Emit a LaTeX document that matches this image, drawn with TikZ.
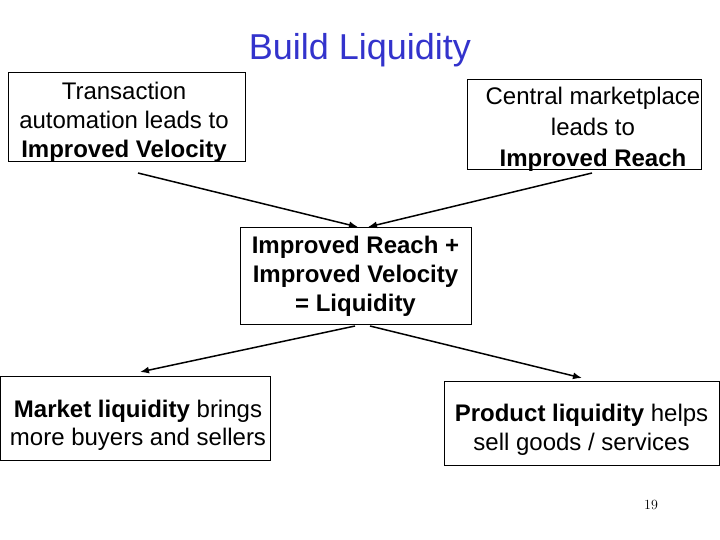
\documentclass[tikz,border=0pt]{standalone}
\usepackage{fontspec}
\setmainfont{Liberation Sans}
\usetikzlibrary{arrows.meta}
\begin{document}
\begin{tikzpicture}[x=1pt,y=-1pt,
  box/.style={draw,line width=1pt,inner sep=0pt},
  txt/.style={font=\fontsize{24}{29}\selectfont,align=center},
  arr/.style={-{Latex[length=9pt,width=7pt]},line width=1.5pt}]
\useasboundingbox (0,0) rectangle (720,540);
\definecolor{tblue}{RGB}{51,51,204}
\node[font=\fontsize{36}{40}\selectfont,text=tblue] (title) at (360,50) {Build Liquidity};
\node[box,minimum width=237pt,minimum height=89pt] (b1) at (126.5,117.5) {};
\node[txt] (t1) at (124,122) {Transaction\\automation leads to\\\textbf{Improved Velocity}};
\node[box,minimum width=234pt,minimum height=90pt] (b2) at (584,125) {};
\node[txt,font=\fontsize{24}{31}\selectfont] (t2) at (593,129) {Central marketplace\\leads to\\\textbf{Improved Reach}};
\node[box,minimum width=231pt,minimum height=96pt] (b3) at (355.5,276) {};
\node[txt] (t3) at (355.5,276) {\textbf{Improved Reach +}\\\textbf{Improved Velocity}\\\textbf{= Liquidity}};
\node[box,minimum width=270pt,minimum height=84pt] (b4) at (135,418) {};
\node[txt,font=\fontsize{24}{28}\selectfont] (t4) at (138,425) {\textbf{Market liquidity} brings\\more buyers and sellers};
\node[box,minimum width=275pt,minimum height=84pt] (b5) at (581.5,423) {};
\node[txt,font=\fontsize{24}{29}\selectfont] (t5) at (581.5,429.5) {\textbf{Product liquidity} helps\\sell goods / services};
\node[font=\fontfamily{lmr}\fontsize{14}{16}\selectfont] (pg) at (651,505) {19};
\coordinate (a1s) at (138,173); \coordinate (a1e) at (358,227);
\coordinate (a2s) at (592,173); \coordinate (a2e) at (368,227);
\coordinate (a3s) at (355,326); \coordinate (a3e) at (140,372);
\coordinate (a4s) at (370,326); \coordinate (a4e) at (582,378);
\draw[arr] (a1s) -- (a1e);
\draw[arr] (a2s) -- (a2e);
\draw[arr] (a3s) -- (a3e);
\draw[arr] (a4s) -- (a4e);
\end{tikzpicture}
\end{document}
